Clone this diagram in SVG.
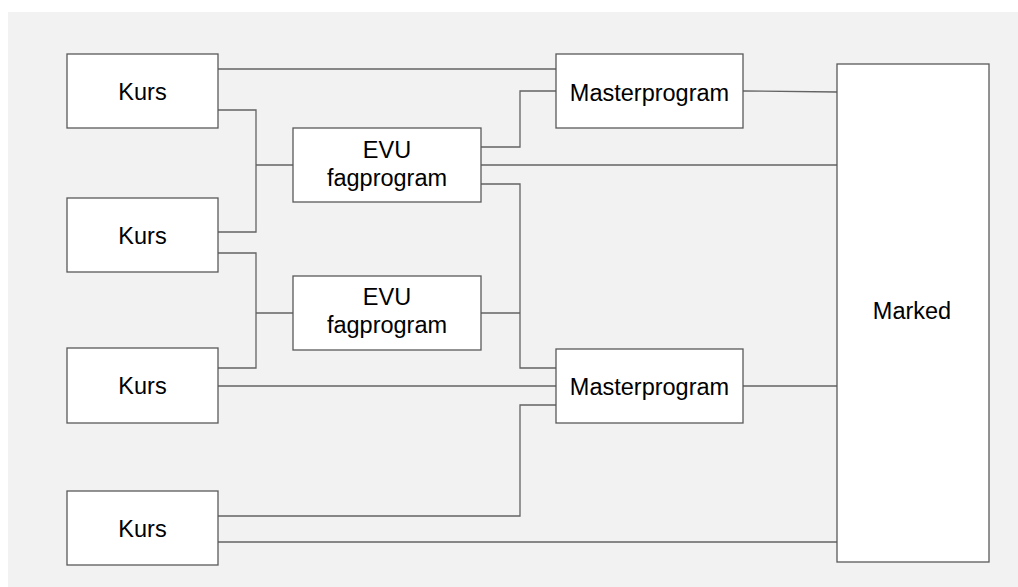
<svg xmlns="http://www.w3.org/2000/svg" width="1018" height="587" viewBox="0 0 1018 587">
<style>
.box{fill:#ffffff;stroke:#595959;stroke-width:1.3}
.t{font-family:"Liberation Sans",Arial,sans-serif;font-size:23.5px;fill:#000;text-anchor:middle}
.c{fill:none;stroke:#636363;stroke-width:1.3}
</style>
<rect x="8" y="12" width="1010" height="575" fill="#f2f2f2"/>
<g id="connectors">
<path class="c" d="M218,69 H556"/>
<path class="c" d="M218,110 H256 V232 H218"/>
<path class="c" d="M256,165 H293"/>
<path class="c" d="M218,253 H256 V368 H218"/>
<path class="c" d="M256,313 H293"/>
<path class="c" d="M218,386 H556"/>
<path class="c" d="M218,516 H520 V405 H556"/>
<path class="c" d="M218,542 H837"/>
<path class="c" d="M481,147 H520 V91 H556"/>
<path class="c" d="M481,165 H837"/>
<path class="c" d="M481,184 H520 V368 H556"/>
<path class="c" d="M481,313 H520"/>
<path class="c" d="M743,91 L837,92"/>
<path class="c" d="M743,386 H837"/>
</g>
<g id="kurs1"><rect class="box" x="67" y="54" width="151" height="74"/><text class="t" x="142.5" y="99.5">Kurs</text></g>
<g id="kurs2"><rect class="box" x="67" y="198" width="151" height="74"/><text class="t" x="142.5" y="243.5">Kurs</text></g>
<g id="kurs3"><rect class="box" x="67" y="348" width="151" height="75"/><text class="t" x="142.5" y="394">Kurs</text></g>
<g id="kurs4"><rect class="box" x="67" y="491" width="151" height="74"/><text class="t" x="142.5" y="536.5">Kurs</text></g>
<g id="evu1"><rect class="box" x="293" y="128" width="188" height="74"/><text class="t" x="387" y="157.7">EVU</text><text class="t" x="387" y="185.7">fagprogram</text></g>
<g id="evu2"><rect class="box" x="293" y="276" width="188" height="74"/><text class="t" x="387" y="305">EVU</text><text class="t" x="387" y="333">fagprogram</text></g>
<g id="master1"><rect class="box" x="556" y="54" width="187" height="74"/><text class="t" x="649.5" y="100.5">Masterprogram</text></g>
<g id="master2"><rect class="box" x="556" y="349" width="187" height="74"/><text class="t" x="649.5" y="395">Masterprogram</text></g>
<g id="marked"><rect class="box" x="837" y="64" width="152" height="498"/><text class="t" x="912" y="319.3">Marked</text></g>
</svg>
